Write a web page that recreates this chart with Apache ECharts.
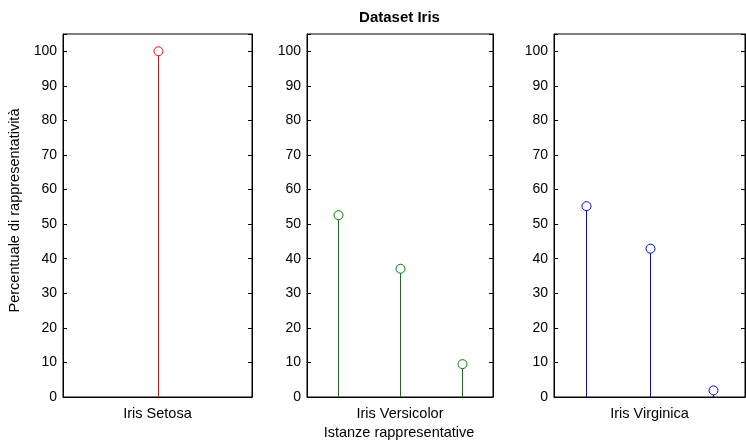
<!DOCTYPE html>
<html>
<head>
<meta charset="utf-8">
<script src="https://cdn.jsdelivr.net/npm/echarts@6/dist/echarts.min.js"></script>
<style>html,body{margin:0;padding:0;background:#fff}#c{width:746px;height:447px}</style>
</head>
<body>
<div id="c"></div>
<script>
const title = 'Dataset Iris';
const xTitle = 'Istanze rappresentative';
const yTitle = 'Percentuale di rappresentatività';
const categories = ['Iris Setosa', 'Iris Versicolor', 'Iris Virginica'];
const setosa = [100];
const versicolor = [52.6, 37.1, 9.5];
const virginica = [55.2, 42.9, 1.9];
const colors = ['#ff0000', '#008000', '#0000ff'];
const yMin = 0, yMax = 105, yStep = 10;

const seriesData = [setosa, versicolor, virginica];
const grids = [
  {left: 63, top: 34, width: 189, height: 363},
  {left: 307, top: 34, width: 186, height: 363},
  {left: 554, top: 34, width: 191, height: 363}
];
const xRanges = [[0, 2], [0.5, 3.5], [0.5, 3.5]];
const FONT = 'Liberation Sans, Arial, sans-serif';

const option = {
  animation: false,
  backgroundColor: '#fff',
  grid: grids.map(g => Object.assign({show: true, borderColor: '#000', borderWidth: 1, containLabel: false}, g)),
  xAxis: grids.map((g, i) => ({
    gridIndex: i, type: 'value', min: xRanges[i][0], max: xRanges[i][1],
    name: categories[i], nameLocation: 'middle', nameGap: 9,
    nameTextStyle: {fontFamily: FONT, fontSize: 14.5, color: '#000'},
    axisLine: {show: true, onZero: false, lineStyle: {color: '#000'}},
    axisTick: {show: false}, axisLabel: {show: false}, splitLine: {show: false}
  })),
  yAxis: [].concat(...grids.map((g, i) => [
    {gridIndex: i, type: 'value', min: yMin, max: yMax, interval: yStep, position: 'left',
      axisLine: {show: true, lineStyle: {color: '#000'}},
      axisTick: {show: true, inside: true, length: 4, lineStyle: {color: '#000'}},
      axisLabel: {show: true, margin: 6, fontFamily: FONT, fontSize: 14, color: '#000',
        formatter: v => (v <= 100 ? String(v) : '')},
      splitLine: {show: false}},
    {gridIndex: i, type: 'value', min: yMin, max: yMax, interval: yStep, position: 'right',
      axisLine: {show: true, lineStyle: {color: '#000'}},
      axisTick: {show: true, inside: true, length: 4, lineStyle: {color: '#000'}},
      axisLabel: {show: false}, splitLine: {show: false}}
  ])),
  series: seriesData.map((vals, i) => ({
    type: 'custom', xAxisIndex: i, yAxisIndex: i * 2,
    data: vals.map((v, k) => [k + 1, v]),
    renderItem: (params, api) => {
      const top = api.coord([api.value(0), api.value(1)]);
      const base = api.coord([api.value(0), 0]);
      const x = Math.round(top[0]) + 0.5;
      return {
        type: 'group', children: [
          {type: 'line', shape: {x1: x, y1: base[1], x2: x, y2: top[1] + 4.5},
            style: {stroke: colors[i], lineWidth: 1}},
          {type: 'circle', shape: {cx: x, cy: top[1], r: 4.5},
            style: {fill: 'none', stroke: colors[i], lineWidth: 1}}
        ]
      };
    }
  })),
  graphic: [
    {type: 'text', x: 399.5, y: 18, style: {text: title, fontFamily: FONT, fontSize: 15, fontWeight: 'bold',
      fill: '#000', textAlign: 'center', textVerticalAlign: 'middle'}},
    {type: 'text', x: 399, y: 433, style: {text: xTitle, fontFamily: FONT, fontSize: 14.5,
      fill: '#000', textAlign: 'center', textVerticalAlign: 'middle'}},
    {type: 'text', x: 15, y: 210.5, rotation: Math.PI / 2, style: {text: yTitle, fontFamily: FONT, fontSize: 14.5,
      fill: '#000', textAlign: 'center', textVerticalAlign: 'middle'}}
  ]
};
echarts.init(document.getElementById('c'), null, {renderer: 'canvas'}).setOption(option);
</script>
</body>
</html>
